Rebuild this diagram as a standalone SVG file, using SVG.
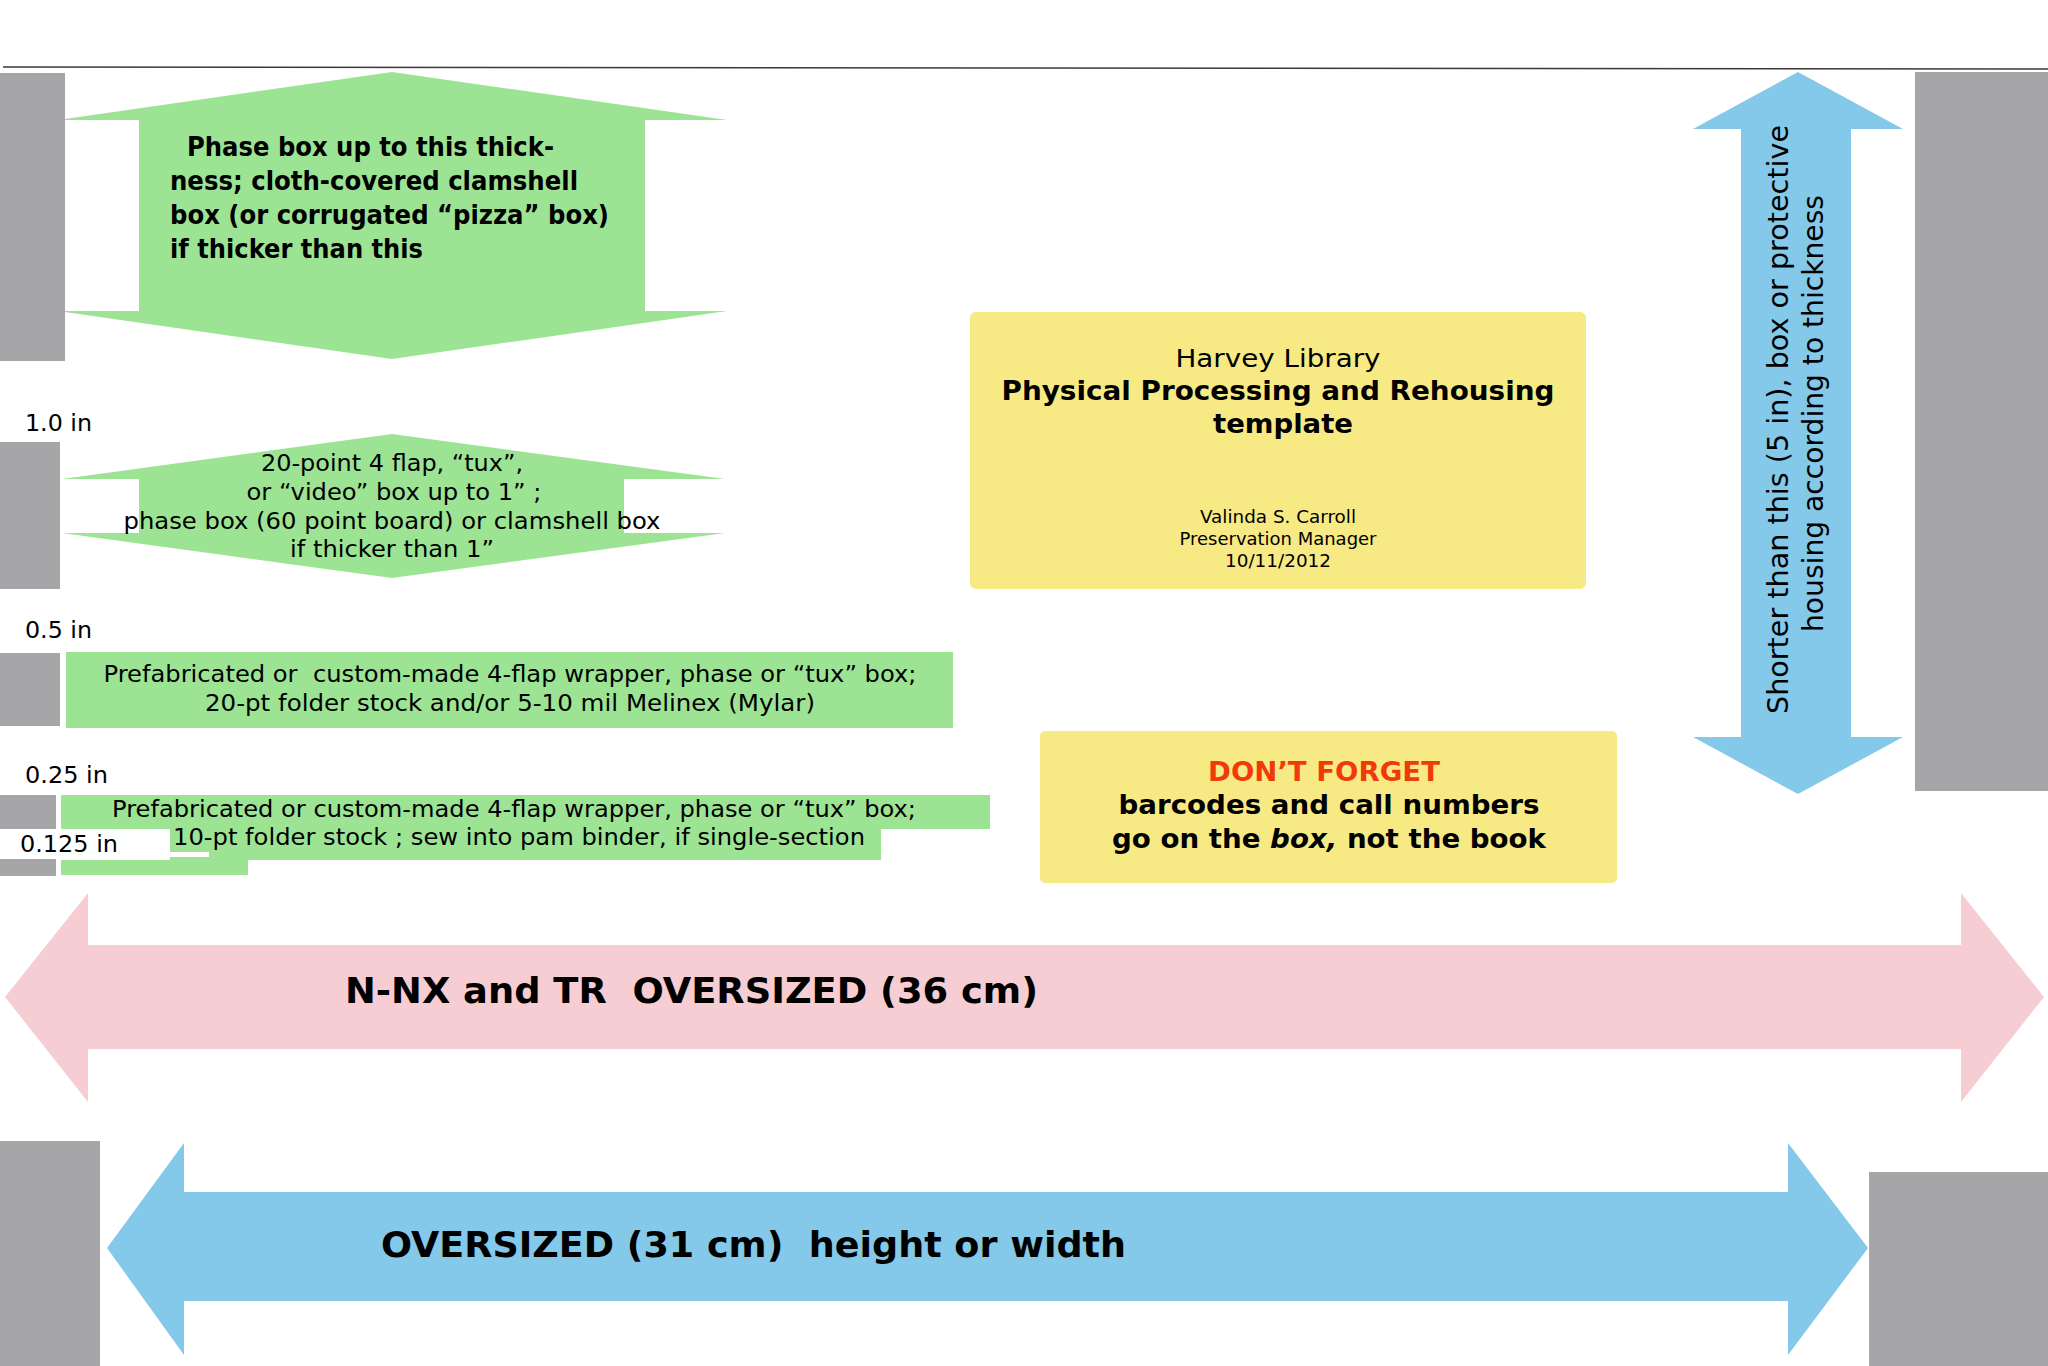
<svg xmlns="http://www.w3.org/2000/svg" width="2048" height="1366" viewBox="0 0 2048 1366">
  <style>
    text { font-family: "DejaVu Sans", Verdana, "Liberation Sans", sans-serif; fill: #000; }
    .b { font-weight: bold; }
    .gray { fill: #a6a5a8; }
    .green { fill: #9ce494; }
    .yellow { fill: #f7ea84; }
    .pink { fill: #f6cdd2; }
    .blue { fill: #84c8ea; }
    .lbl { font-size: 23px; }
    .g1 { font-size: 26px; font-weight: bold; }
    .g2 { font-size: 23px; }
    .mid { text-anchor: middle; }
  </style>
  <rect width="2048" height="1366" fill="#ffffff"/>

  <g id="connectors">
    <line x1="3" y1="67" x2="2048" y2="69" stroke="#3a3a3a" stroke-width="1.5"/>
  </g>

  <g id="thick-phase-box">
    <path class="green" d="M392,72 L727,120 L645,120 L645,311 L727,311 L392,359 L58,311 L139,311 L139,120 L58,120 Z"/>
    <rect class="gray" x="0" y="73" width="65" height="288"/>
    <text class="g1" x="187" y="156" textLength="367" lengthAdjust="spacingAndGlyphs">Phase box up to this thick-</text>
    <text class="g1" x="170" y="190" textLength="408" lengthAdjust="spacingAndGlyphs">ness; cloth-covered clamshell</text>
    <text class="g1" x="170" y="224" textLength="439" lengthAdjust="spacingAndGlyphs">box (or corrugated “pizza” box)</text>
    <text class="g1" x="170" y="258" textLength="253" lengthAdjust="spacingAndGlyphs">if thicker than this</text>
  </g>

  <g id="label-1in">
    <text class="lbl" x="25" y="431" textLength="67" lengthAdjust="spacingAndGlyphs">1.0 in</text>
  </g>

  <g id="one-inch-box">
    <path class="green" d="M392,434 L725,479 L624,479 L624,533 L725,533 L392,578 L62,533 L139,533 L139,479 L62,479 Z"/>
    <rect class="gray" x="0" y="442" width="60" height="147"/>
    <text class="g2 mid" x="392" y="471" textLength="262" lengthAdjust="spacingAndGlyphs">20-point 4 flap, “tux”,</text>
    <text class="g2 mid" x="394" y="500" textLength="295" lengthAdjust="spacingAndGlyphs">or “video” box up to 1” ;</text>
    <text class="g2 mid" x="392" y="529" textLength="537" lengthAdjust="spacingAndGlyphs">phase box (60 point board) or clamshell box</text>
    <text class="g2 mid" x="392" y="557" textLength="204" lengthAdjust="spacingAndGlyphs">if thicker than 1”</text>
  </g>

  <g id="label-05in">
    <text class="lbl" x="25" y="638" textLength="67" lengthAdjust="spacingAndGlyphs">0.5 in</text>
  </g>

  <g id="half-inch-box">
    <rect class="gray" x="0" y="653" width="60" height="73"/>
    <rect class="green" x="66" y="652" width="887" height="76"/>
    <text class="g2 mid" x="510" y="682" textLength="813" lengthAdjust="spacingAndGlyphs" xml:space="preserve">Prefabricated or  custom-made 4-flap wrapper, phase or “tux” box;</text>
    <text class="g2 mid" x="510" y="711" textLength="610" lengthAdjust="spacingAndGlyphs">20-pt folder stock and/or 5-10 mil Melinex (Mylar)</text>
  </g>

  <g id="label-025in">
    <text class="lbl" x="25" y="783" textLength="83" lengthAdjust="spacingAndGlyphs">0.25 in</text>
  </g>

  <g id="quarter-inch-box">
    <rect class="gray" x="0" y="795" width="56" height="34"/>
    <rect class="green" x="61" y="795" width="929" height="34"/>
    <rect class="green" x="170" y="829" width="711" height="31"/>
    <rect class="green" x="61" y="860" width="187" height="15"/>
    <rect class="gray" x="0" y="859" width="56" height="17"/>
    <rect fill="#ffffff" x="170" y="852" width="39" height="5"/>
    <text class="g2 mid" x="514" y="817" textLength="804" lengthAdjust="spacingAndGlyphs">Prefabricated or custom-made 4-flap wrapper, phase or “tux” box;</text>
    <text class="g2 mid" x="519" y="845" textLength="692" lengthAdjust="spacingAndGlyphs">10-pt folder stock ; sew into pam binder, if single-section</text>
  </g>

  <g id="label-0125in">
    <text class="lbl" x="20" y="852" textLength="98" lengthAdjust="spacingAndGlyphs">0.125 in</text>
  </g>

  <g id="title-box">
    <rect class="yellow" x="970" y="312" width="616" height="277" rx="6"/>
    <text class="mid" x="1278" y="367" font-size="25" textLength="205" lengthAdjust="spacingAndGlyphs">Harvey Library</text>
    <text class="mid b" x="1278" y="400" font-size="26" textLength="553" lengthAdjust="spacingAndGlyphs">Physical Processing and Rehousing</text>
    <text class="mid b" x="1283" y="433" font-size="26" textLength="140" lengthAdjust="spacingAndGlyphs">template</text>
    <text class="mid" x="1278" y="523" font-size="17" textLength="156" lengthAdjust="spacingAndGlyphs">Valinda S. Carroll</text>
    <text class="mid" x="1278" y="545" font-size="17" textLength="197" lengthAdjust="spacingAndGlyphs">Preservation Manager</text>
    <text class="mid" x="1278" y="567" font-size="17" textLength="106" lengthAdjust="spacingAndGlyphs">10/11/2012</text>
  </g>

  <g id="dont-forget-box">
    <rect class="yellow" x="1040" y="731" width="577" height="152" rx="5"/>
    <text class="mid b" x="1324" y="781" font-size="27" fill="#f03a0a" style="fill:#f03a0a" textLength="232" lengthAdjust="spacingAndGlyphs">DON’T FORGET</text>
    <text class="mid b" x="1329" y="814" font-size="27" textLength="421" lengthAdjust="spacingAndGlyphs">barcodes and call numbers</text>
    <text class="mid b" x="1329" y="848" font-size="27" textLength="434" lengthAdjust="spacingAndGlyphs">go on the <tspan font-style="italic">box,</tspan> not the book</text>
  </g>

  <g id="height-arrow">
    <path class="blue" d="M1798,72 L1903,129 L1851,129 L1851,737 L1903,737 L1798,794 L1693,737 L1741,737 L1741,129 L1693,129 Z"/>
    <text class="mid" font-size="29" transform="translate(1788,419.5) rotate(-90)" textLength="589" lengthAdjust="spacingAndGlyphs">Shorter than this (5 in), box or protective</text>
    <text class="mid" font-size="29" transform="translate(1823,413.5) rotate(-90)" textLength="437" lengthAdjust="spacingAndGlyphs">housing according to thickness</text>
  </g>

  <g id="right-bar">
    <rect class="gray" x="1915" y="72" width="133" height="719"/>
  </g>

  <g id="oversized-36">
    <path class="pink" d="M5,997 L88,893 L88,945 L1961,945 L1961,893 L2044,997 L1961,1102 L1961,1049 L88,1049 L88,1102 Z"/>
    <text class="b" x="345" y="1003" font-size="36" textLength="693" lengthAdjust="spacingAndGlyphs" xml:space="preserve">N-NX and TR  OVERSIZED (36 cm)</text>
  </g>

  <g id="oversized-31">
    <rect class="gray" x="0" y="1141" width="100" height="225"/>
    <rect class="gray" x="1869" y="1172" width="179" height="194"/>
    <path class="blue" d="M107,1248 L184,1143 L184,1192 L1788,1192 L1788,1143 L1868,1248 L1788,1355 L1788,1301 L184,1301 L184,1355 Z"/>
    <text class="b" x="381" y="1257" font-size="36" textLength="745" lengthAdjust="spacingAndGlyphs" xml:space="preserve">OVERSIZED (31 cm)  height or width</text>
  </g>
</svg>
